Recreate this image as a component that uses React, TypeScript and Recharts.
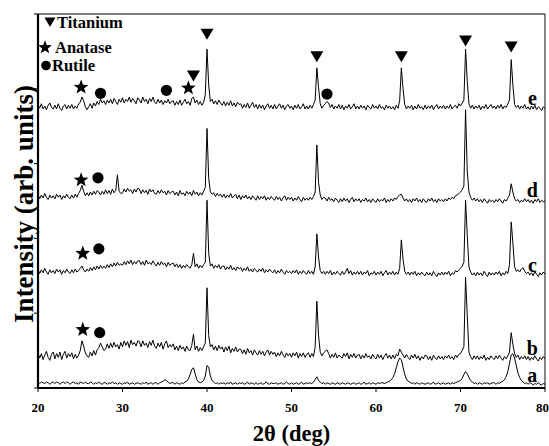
import { ComposedChart, Line, Scatter, XAxis, YAxis, ReferenceLine, Label } from 'recharts'

const serif = '"Liberation Serif", "Times New Roman", serif'

// 2-theta scan positions (deg)
const twoTheta = [
  20, 20.2, 20.4, 20.6, 20.8, 21, 21.2, 21.4, 21.6, 21.8,
  22, 22.2, 22.4, 22.6, 22.8, 23, 23.2, 23.4, 23.6, 23.8,
  24, 24.2, 24.4, 24.6, 24.8, 25, 25.2, 25.4, 25.6, 25.8,
  26, 26.2, 26.4, 26.6, 26.8, 27, 27.2, 27.4, 27.6, 27.8,
  28, 28.2, 28.4, 28.6, 28.8, 29, 29.2, 29.4, 29.6, 29.8,
  30, 30.2, 30.4, 30.6, 30.8, 31, 31.2, 31.4, 31.6, 31.8,
  32, 32.2, 32.4, 32.6, 32.8, 33, 33.2, 33.4, 33.6, 33.8,
  34, 34.2, 34.4, 34.6, 34.8, 35, 35.2, 35.4, 35.6, 35.8,
  36, 36.2, 36.4, 36.6, 36.8, 37, 37.2, 37.4, 37.6, 37.8,
  38, 38.2, 38.4, 38.6, 38.8, 39, 39.2, 39.4, 39.6, 39.8,
  40, 40.2, 40.4, 40.6, 40.8, 41, 41.2, 41.4, 41.6, 41.8,
  42, 42.2, 42.4, 42.6, 42.8, 43, 43.2, 43.4, 43.6, 43.8,
  44, 44.2, 44.4, 44.6, 44.8, 45, 45.2, 45.4, 45.6, 45.8,
  46, 46.2, 46.4, 46.6, 46.8, 47, 47.2, 47.4, 47.6, 47.8,
  48, 48.2, 48.4, 48.6, 48.8, 49, 49.2, 49.4, 49.6, 49.8,
  50, 50.2, 50.4, 50.6, 50.8, 51, 51.2, 51.4, 51.6, 51.8,
  52, 52.2, 52.4, 52.6, 52.8, 53, 53.2, 53.4, 53.6, 53.8,
  54, 54.2, 54.4, 54.6, 54.8, 55, 55.2, 55.4, 55.6, 55.8,
  56, 56.2, 56.4, 56.6, 56.8, 57, 57.2, 57.4, 57.6, 57.8,
  58, 58.2, 58.4, 58.6, 58.8, 59, 59.2, 59.4, 59.6, 59.8,
  60, 60.2, 60.4, 60.6, 60.8, 61, 61.2, 61.4, 61.6, 61.8,
  62, 62.2, 62.4, 62.6, 62.8, 63, 63.2, 63.4, 63.6, 63.8,
  64, 64.2, 64.4, 64.6, 64.8, 65, 65.2, 65.4, 65.6, 65.8,
  66, 66.2, 66.4, 66.6, 66.8, 67, 67.2, 67.4, 67.6, 67.8,
  68, 68.2, 68.4, 68.6, 68.8, 69, 69.2, 69.4, 69.6, 69.8,
  70, 70.2, 70.4, 70.6, 70.8, 71, 71.2, 71.4, 71.6, 71.8,
  72, 72.2, 72.4, 72.6, 72.8, 73, 73.2, 73.4, 73.6, 73.8,
  74, 74.2, 74.4, 74.6, 74.8, 75, 75.2, 75.4, 75.6, 75.8,
  76, 76.2, 76.4, 76.6, 76.8, 77, 77.2, 77.4, 77.6, 77.8,
  78, 78.2, 78.4, 78.6, 78.8, 79, 79.2, 79.4, 79.6, 79.8,
  80,
]

// intensities, stacked (arb. units x100)
const traceA = [
  8, 6, 8, 7, 6, 8, 7, 5, 7, 8,
  6, 8, 7, 5, 7, 8, 6, 8, 7, 5,
  7, 8, 6, 7, 5, 8, 7, 6, 8, 6,
  6, 8, 7, 5, 7, 6, 8, 6, 5, 7,
  7, 5, 7, 6, 8, 6, 7, 5, 7, 6,
  5, 7, 6, 8, 5, 6, 7, 5, 6, 7,
  6, 5, 7, 6, 8, 5, 6, 7, 5, 7,
  7, 5, 7, 8, 9, 11, 10, 8, 6, 7,
  7, 5, 7, 6, 5, 7, 6, 8, 9, 12,
  18, 25, 27, 19, 11, 8, 7, 8, 10, 16,
  30, 28, 16, 10, 8, 6, 7, 5, 7, 6,
  7, 5, 7, 6, 8, 5, 6, 7, 5, 7,
  6, 7, 5, 6, 8, 5, 7, 6, 5, 7,
  5, 6, 7, 5, 6, 8, 6, 5, 7, 6,
  6, 7, 5, 6, 7, 5, 6, 8, 6, 5,
  7, 5, 6, 7, 5, 6, 8, 5, 6, 7,
  6, 7, 6, 8, 11, 15, 10, 8, 6, 7,
  5, 7, 6, 5, 7, 6, 5, 7, 6, 5,
  7, 6, 5, 7, 6, 5, 6, 7, 5, 6,
  7, 5, 6, 8, 5, 6, 7, 5, 7, 6,
  5, 7, 6, 7, 7, 6, 7, 8, 9, 11,
  14, 19, 27, 35, 40, 38, 28, 18, 12, 9,
  8, 6, 7, 5, 7, 6, 5, 7, 6, 5,
  6, 7, 5, 6, 8, 5, 6, 7, 5, 6,
  7, 5, 6, 7, 5, 7, 6, 7, 8, 9,
  10, 13, 18, 22, 19, 14, 10, 8, 6, 7,
  5, 7, 6, 5, 7, 6, 7, 5, 6, 7,
  7, 5, 7, 6, 8, 9, 11, 15, 22, 33,
  44, 46, 40, 30, 20, 14, 10, 8, 6, 7,
  5, 7, 6, 4, 6, 5, 7, 5, 4, 6,
  5,
]

const traceB = [
  47, 40, 46, 38, 44, 49, 41, 37, 45, 48,
  39, 46, 41, 48, 38, 45, 49, 40, 46, 42,
  47, 39, 45, 40, 44, 50, 63, 56, 47, 43,
  41, 48, 43, 50, 44, 51, 54, 60, 55, 50,
  52, 59, 53, 60, 54, 61, 55, 58, 52, 61,
  55, 63, 57, 62, 54, 64, 58, 61, 56, 63,
  62, 55, 63, 57, 60, 54, 62, 57, 64, 56,
  53, 60, 55, 61, 52, 59, 63, 54, 58, 55,
  59, 51, 56, 50, 57, 52, 55, 49, 56, 51,
  50, 57, 72, 51, 56, 49, 54, 50, 55, 60,
  134, 70, 55, 58, 51, 56, 50, 57, 52, 55,
  48, 55, 50, 56, 47, 53, 49, 55, 48, 52,
  52, 46, 51, 45, 53, 47, 50, 44, 51, 47,
  44, 50, 45, 49, 43, 48, 51, 44, 49, 45,
  48, 42, 47, 43, 49, 44, 41, 47, 43, 46,
  41, 47, 43, 48, 40, 46, 42, 47, 41, 45,
  47, 41, 46, 42, 55, 116, 70, 48, 43, 47,
  49, 51, 46, 40, 45, 41, 47, 40, 44, 42,
  40, 46, 42, 47, 39, 45, 41, 46, 40, 44,
  45, 39, 44, 40, 46, 41, 43, 39, 45, 41,
  39, 45, 40, 44, 38, 43, 46, 40, 44, 39,
  44, 39, 45, 43, 52, 48, 44, 40, 45, 41,
  38, 44, 40, 45, 39, 43, 37, 42, 39, 44,
  43, 38, 42, 37, 44, 40, 38, 43, 39, 42,
  38, 43, 40, 44, 39, 42, 38, 44, 41, 45,
  46, 50, 55, 148, 97, 48, 42, 38, 43, 39,
  43, 38, 42, 39, 44, 37, 41, 38, 43, 40,
  38, 43, 39, 44, 40, 37, 42, 39, 43, 48,
  74, 58, 46, 41, 44, 38, 42, 39, 43, 38,
  42, 37, 41, 38, 43, 39, 36, 41, 38, 42,
  39,
]

const traceC = [
  159, 153, 158, 154, 160, 155, 152, 158, 154, 157,
  153, 159, 155, 158, 152, 157, 154, 159, 155, 153,
  158, 154, 159, 155, 157, 160, 163, 158, 155, 159,
  156, 161, 157, 162, 158, 163, 159, 164, 160, 163,
  160, 165, 161, 166, 162, 167, 163, 168, 164, 166,
  164, 169, 165, 170, 166, 171, 165, 169, 166, 170,
  170, 165, 169, 164, 171, 166, 168, 165, 170, 166,
  163, 168, 164, 169, 165, 167, 162, 168, 164, 166,
  167, 162, 166, 161, 165, 160, 164, 161, 165, 162,
  160, 165, 180, 162, 166, 160, 164, 161, 165, 168,
  251, 180, 163, 166, 160, 164, 161, 165, 159, 163,
  163, 158, 162, 159, 164, 158, 161, 157, 162, 159,
  161, 156, 160, 157, 162, 156, 159, 155, 160, 157,
  155, 159, 156, 160, 154, 158, 155, 159, 156, 154,
  158, 153, 157, 154, 159, 155, 152, 157, 154, 156,
  153, 157, 154, 158, 152, 156, 153, 157, 154, 152,
  157, 153, 156, 152, 162, 206, 175, 157, 153, 156,
  152, 156, 153, 157, 151, 155, 152, 156, 153, 151,
  156, 152, 155, 160, 153, 157, 151, 155, 152, 156,
  152, 156, 151, 155, 153, 157, 150, 154, 152, 156,
  151, 155, 152, 156, 150, 154, 157, 151, 155, 152,
  156, 151, 155, 152, 160, 198, 172, 156, 152, 155,
  151, 155, 152, 156, 150, 154, 151, 155, 152, 150,
  155, 151, 154, 150, 156, 152, 149, 154, 151, 155,
  151, 155, 152, 156, 150, 154, 152, 157, 155, 158,
  160, 163, 168, 251, 204, 162, 155, 151, 154, 150,
  155, 151, 154, 150, 156, 152, 149, 155, 151, 154,
  151, 155, 152, 156, 150, 154, 151, 156, 153, 165,
  222, 194, 162, 156, 158, 155, 159, 161, 156, 153,
  155, 151, 154, 150, 156, 152, 149, 154, 151, 155,
  152,
]

const traceD = [
  259, 253, 258, 254, 260, 255, 252, 258, 254, 257,
  253, 259, 255, 258, 252, 257, 254, 259, 255, 253,
  258, 254, 259, 255, 260, 264, 271, 263, 257, 261,
  257, 262, 258, 263, 259, 264, 262, 258, 263, 259,
  265, 260, 264, 259, 266, 261, 264, 285, 263, 260,
  261, 266, 262, 267, 263, 265, 260, 266, 262, 267,
  266, 260, 265, 261, 264, 259, 266, 262, 265, 260,
  259, 264, 260, 265, 261, 263, 258, 264, 260, 262,
  263, 258, 262, 257, 264, 259, 261, 257, 263, 259,
  262, 257, 264, 259, 262, 257, 261, 258, 263, 268,
  347, 280, 262, 259, 261, 256, 260, 257, 259, 255,
  259, 254, 258, 255, 260, 254, 257, 259, 253, 258,
  252, 257, 254, 258, 253, 256, 252, 257, 254, 251,
  257, 252, 256, 253, 257, 251, 255, 252, 256, 253,
  251, 256, 252, 255, 250, 254, 257, 251, 255, 252,
  255, 250, 254, 251, 256, 252, 249, 255, 251, 254,
  251, 255, 252, 256, 262, 325, 275, 258, 252, 255,
  254, 250, 255, 251, 253, 249, 254, 251, 248, 253,
  249, 254, 250, 253, 248, 252, 255, 249, 253, 250,
  253, 248, 252, 250, 254, 249, 252, 248, 253, 250,
  248, 253, 249, 252, 250, 254, 248, 252, 249, 253,
  250, 254, 252, 256, 258, 259, 254, 250, 253, 249,
  252, 248, 253, 250, 254, 249, 252, 248, 253, 250,
  248, 253, 250, 254, 249, 252, 248, 253, 250, 252,
  249, 253, 250, 254, 252, 255, 253, 257, 258, 260,
  262, 265, 270, 372, 290, 262, 255, 251, 254, 250,
  253, 249, 252, 248, 253, 250, 247, 252, 249, 251,
  248, 252, 249, 253, 250, 247, 252, 250, 254, 258,
  273, 262, 253, 250, 252, 248, 251, 249, 253, 249,
  252, 248, 251, 247, 252, 249, 253, 248, 251, 249,
  250,
]

const traceE = [
  379, 374, 380, 373, 377, 372, 378, 381, 375, 373,
  378, 373, 380, 374, 371, 377, 379, 373, 378, 374,
  379, 373, 377, 374, 380, 382, 389, 384, 376, 372,
  376, 380, 374, 381, 377, 383, 379, 386, 381, 384,
  379, 385, 381, 386, 380, 387, 383, 379, 386, 382,
  388, 381, 386, 383, 389, 382, 387, 384, 380, 388,
  385, 381, 389, 383, 386, 380, 387, 383, 389, 382,
  380, 386, 381, 385, 379, 384, 381, 386, 380, 383,
  384, 378, 383, 379, 385, 378, 382, 386, 380, 383,
  378, 387, 389, 381, 385, 379, 383, 378, 382, 392,
  453, 405, 383, 386, 380, 384, 379, 385, 381, 378,
  383, 377, 382, 378, 384, 377, 381, 376, 382, 379,
  380, 374, 379, 375, 381, 374, 378, 382, 375, 379,
  373, 379, 374, 378, 372, 377, 380, 374, 378, 373,
  379, 373, 377, 380, 374, 378, 372, 377, 379, 374,
  377, 372, 378, 374, 379, 373, 376, 380, 373, 377,
  373, 378, 374, 379, 385, 428, 402, 380, 374, 378,
  380, 383, 381, 375, 379, 373, 377, 374, 379, 373,
  378, 372, 377, 374, 379, 373, 376, 380, 373, 377,
  373, 378, 374, 377, 372, 378, 375, 373, 379, 374,
  377, 373, 379, 374, 376, 372, 378, 374, 377, 373,
  376, 372, 378, 374, 384, 428, 400, 379, 373, 377,
  374, 378, 372, 377, 373, 379, 374, 376, 372, 378,
  373, 377, 374, 378, 372, 376, 379, 373, 377, 374,
  378, 373, 377, 374, 379, 373, 376, 378, 374, 380,
  377, 381, 385, 453, 410, 380, 374, 378, 373, 377,
  374, 378, 372, 377, 374, 379, 373, 376, 379, 374,
  377, 373, 378, 374, 379, 373, 377, 375, 380, 385,
  439, 405, 379, 375, 378, 373, 377, 374, 379, 373,
  376, 372, 377, 373, 378, 372, 376, 374, 371, 376,
  374,
]

const xTicks = [20, 30, 40, 50, 60, 70, 80]
const yTicks = [0, 100, 200, 300, 400, 500]

// phase markers (2theta, stacked height)
const titaniumMarks = [
  { x: 38.4, y: 417 }, { x: 40.0, y: 473 }, { x: 53.0, y: 443 },
  { x: 63.0, y: 443 }, { x: 70.6, y: 464 }, { x: 76.0, y: 456 },
]
const anataseMarks = [
  { x: 25.1, y: 402 }, { x: 37.8, y: 401 }, { x: 25.1, y: 278 },
  { x: 25.3, y: 180 }, { x: 25.3, y: 78 },
]
const rutileMarks = [
  { x: 27.4, y: 394 }, { x: 35.2, y: 398 }, { x: 54.2, y: 393 },
  { x: 27.1, y: 281 }, { x: 27.2, y: 186 }, { x: 27.3, y: 74 },
]
const sampleTags = [
  { x: 78.5, y: 17, tag: 'a' }, { x: 78.5, y: 53, tag: 'b' },
  { x: 78.5, y: 164, tag: 'c' }, { x: 78.5, y: 265, tag: 'd' },
  { x: 78.5, y: 388, tag: 'e' },
]

const rows = twoTheta.map((x, i) => ({
  x, a: traceA[i], b: traceB[i], c: traceC[i], d: traceD[i], e: traceE[i],
}))

function starPoints(cx: number, cy: number, R: number, r: number) {
  const pts: string[] = []
  for (let k = 0; k < 10; k++) {
    const ang = -Math.PI / 2 + (k * Math.PI) / 5
    const rad = k % 2 === 0 ? R : r
    pts.push(`${cx + rad * Math.cos(ang)},${cy + rad * Math.sin(ang)}`)
  }
  return pts.join(' ')
}

const triangleShape = (p: any) => (
  <polygon
    points={`${p.cx - 6.5},${p.cy - 5.5} ${p.cx + 6.5},${p.cy - 5.5} ${p.cx},${p.cy + 5.5}`}
    fill="#000"
  />
)
const starShape = (p: any) => <polygon points={starPoints(p.cx, p.cy, 7.8, 3.3)} fill="#000" />
const circleShape = (p: any) => <circle cx={p.cx} cy={p.cy} r={5.6} fill="#000" />
const tagShape = (p: any) => (
  <text x={p.cx} y={p.cy} textAnchor="middle" dominantBaseline="central"
    fontFamily={serif} fontWeight="bold" fontSize={20} fill="#000">
    {p.payload.tag}
  </text>
)

const seriesKeys = ['a', 'b', 'c', 'd', 'e']

function YTitle(props: any) {
  const vb = props.viewBox || { x: 0, y: 14, width: 38, height: 374 }
  const cx = vb.x + 33
  const cy = vb.y + vb.height / 2 + 3
  return (
    <text x={cx} y={cy} transform={`rotate(-90 ${cx} ${cy})`} textAnchor="middle"
      fontFamily={serif} fontWeight="bold" fontSize={27} fill="#000">
      Intensity (arb. units)
    </text>
  )
}

function Legend() {
  return (
    <svg width={140} height={80} style={{ position: 'absolute', left: 0, top: 0 }}>
      <polygon points="44.5,17.5 55.5,17.5 50,27" fill="#000" />
      <text x={57} y={28} fontFamily={serif} fontWeight="bold" fontSize={16.5}>Titanium</text>
      <polygon points={starPoints(45, 47.5, 7.2, 3)} fill="#000" />
      <text x={55} y={53} fontFamily={serif} fontWeight="bold" fontSize={16.5}>Anatase</text>
      <circle cx={46} cy={65.5} r={4.8} fill="#000" />
      <text x={52} y={71} fontFamily={serif} fontWeight="bold" fontSize={16.5}>Rutile</text>
    </svg>
  )
}

export default function App() {
  return (
    <div style={{ position: 'absolute', left: 0, top: 0, width: 549, height: 446, background: '#fff', fontFamily: serif }}>
      <ComposedChart width={549} height={446} data={rows} margin={{ top: 14, right: 4, bottom: 0, left: 0 }}>
        <XAxis
          type="number"
          dataKey="x"
          domain={[20, 80]}
          ticks={xTicks}
          allowDataOverflow
          height={58}
          tickSize={4}
          tickMargin={11}
          axisLine={{ stroke: '#000', strokeWidth: 2.2 }}
          tickLine={{ stroke: '#000' }}
          tick={{ fontSize: 13, fontWeight: 'bold', fill: '#000', fontFamily: serif }}
        >
          <Label value="2θ (deg)" position="insideBottom" offset={5}
            style={{ fontSize: 22.5, fontWeight: 'bold', fill: '#000', fontFamily: serif }} />
        </XAxis>
        <YAxis
          type="number"
          domain={[0, 500]}
          ticks={yTicks}
          allowDataOverflow
          width={38}
          tickSize={4}
          tickFormatter={() => ''}
          axisLine={{ stroke: '#000', strokeWidth: 2.2 }}
          tickLine={{ stroke: '#000' }}
        >
          <Label content={YTitle} />
        </YAxis>
        <ReferenceLine y={500} stroke="#000" strokeWidth={1.2} />
        <ReferenceLine x={80} stroke="#333" strokeWidth={1.2} />
        {seriesKeys.map((k) => (
          <Line key={k} type="linear" dataKey={k} stroke="#000" strokeWidth={1}
            dot={false} isAnimationActive={false} />
        ))}
        <Scatter data={titaniumMarks} dataKey="y" shape={triangleShape} isAnimationActive={false} />
        <Scatter data={anataseMarks} dataKey="y" shape={starShape} isAnimationActive={false} />
        <Scatter data={rutileMarks} dataKey="y" shape={circleShape} isAnimationActive={false} />
        <Scatter data={sampleTags} dataKey="y" shape={tagShape} isAnimationActive={false} />
      </ComposedChart>
      <Legend />
    </div>
  )
}
